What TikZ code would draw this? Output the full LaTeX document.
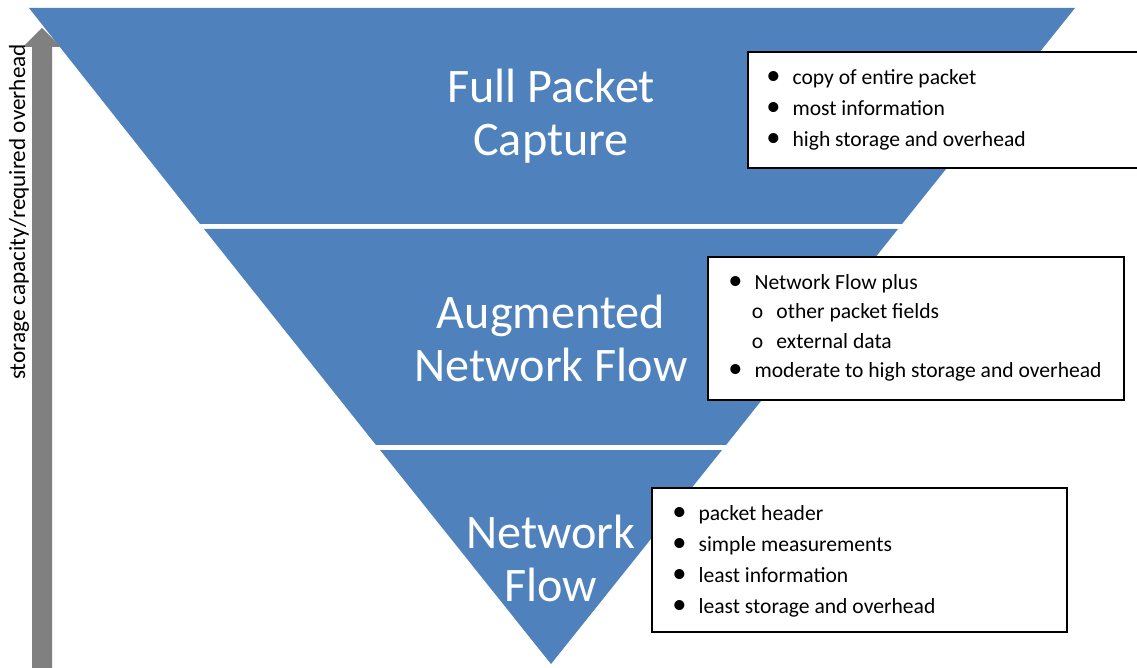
\documentclass[tikz,border=0pt]{standalone}
\usepackage{fontspec}
\setmainfont{Carlito}
\usetikzlibrary{positioning}
\definecolor{bandBlue}{HTML}{4F81BD}
\definecolor{arrowGray}{HTML}{808080}
\newcommand{\itm}[1]{\makebox[19.4pt][c]{\hspace{2.6pt}\fontsize{12.5}{12}\selectfont\textbullet}#1}
\newcommand{\subitm}[1]{\makebox[16.7pt][c]{o}#1}
\tikzset{
  band/.style={fill=bandBlue},
  level/.style={text=white, font=\fontsize{21.2}{23.3}\selectfont, align=center, inner sep=0pt},
  infobox/.style={draw=black, line width=0.7pt, fill=white},
  entry/.style={anchor=base west, inner sep=0pt, font=\fontsize{9.5}{12}\selectfont},
}

\begin{document}
\begin{tikzpicture}[x=0.44pt,y=-0.44pt]
    \useasboundingbox (0,0) rectangle (1137,668);

    % the three bands of the funnel
    \fill[band] (29,8) -- (1075,8) -- (902,224) -- (200,224) -- cycle;
    \fill[band] (204,229) -- (898,229) -- (726,445) -- (376,445) -- cycle;
    \fill[band] (380,450) -- (722,450) -- (551,664) -- cycle;

    % arrow on the left
    \fill[arrowGray] (32,670) -- (32,47) -- (23,47) -- (42,28) -- (61,47) -- (52,47) -- (52,670) -- cycle;
    \node[rotate=90, font=\fontsize{10.2}{12}\selectfont, inner sep=0pt] (axis) at (19,212) {storage capacity/required overhead};

    \node[level] (fpc) at (551,116) {Full Packet\\Capture};
    \node[level] (anf) at (551,338) {Augmented\\Network Flow};
    \node[level] (nf) at (551,558) {Network\\Flow};

    % full packet capture
    \draw[infobox] (748,52) rectangle (1140,168);
    \node[entry] (fpcA) at (748,85) {\itm{copy of entire packet}};
    \node[entry] (fpcB) at (748,116) {\itm{most information}};
    \node[entry] (fpcC) at (748,147) {\itm{high storage and overhead}};

    % augmented network flow
    \draw[infobox] (708,257) rectangle (1124,400);
    \node[entry] (anfA) at (710,290) {\itm{Network Flow plus}};
    \node[entry] (anfB) at (738,319) {\subitm{other packet fields}};
    \node[entry] (anfC) at (738,349) {\subitm{external data}};
    \node[entry] (anfD) at (710,378) {\itm{moderate to high storage and overhead}};

    % network flow
    \draw[infobox] (652,488) rectangle (1067,632);
    \node[entry] (nfA) at (654,520) {\itm{packet header}};
    \node[entry] (nfB) at (654,551) {\itm{simple measurements}};
    \node[entry] (nfC) at (654,582) {\itm{least information}};
    \node[entry] (nfD) at (654,613) {\itm{least storage and overhead}};
\end{tikzpicture}
\end{document}
